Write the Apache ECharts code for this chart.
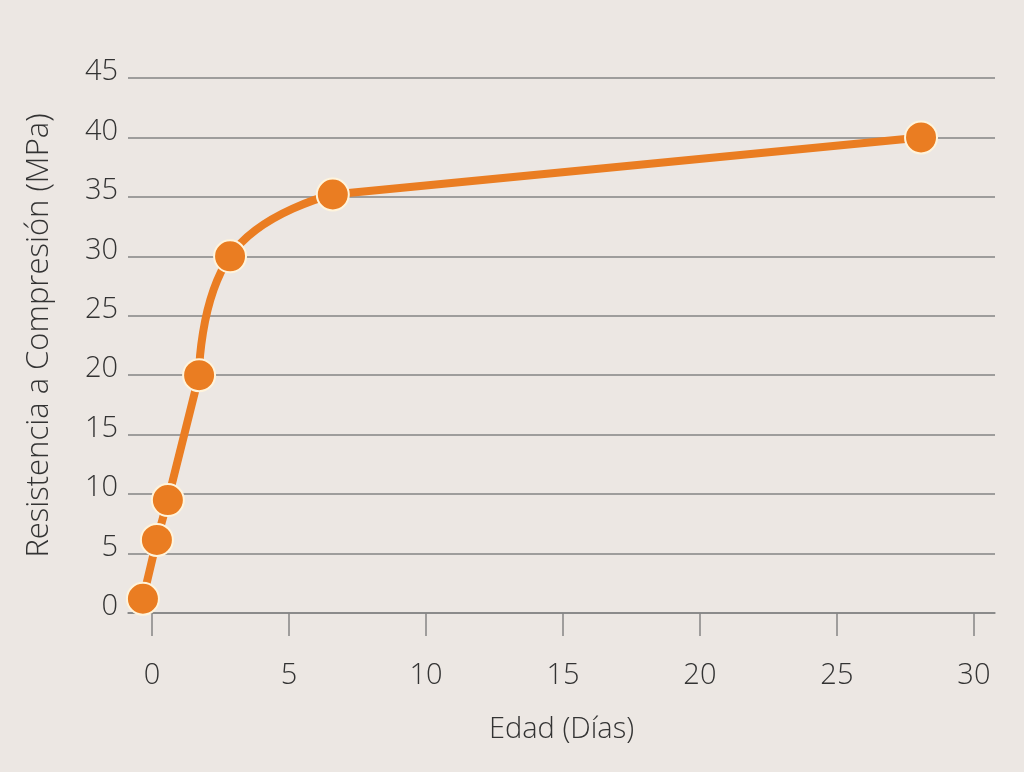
<!DOCTYPE html>
<html><head><meta charset="utf-8">
<script src="https://cdn.jsdelivr.net/npm/echarts@6/dist/echarts.min.js"></script>
<style>html,body{margin:0;padding:0;background:#ece7e3;}#c{width:1024px;height:772px;}</style>
</head><body><div id="c"></div>
<script>
const ages = [-0.33, 0.18, 0.58, 1.72, 2.85, 6.6, 28.07];
const strength = [1.2, 6.15, 9.5, 20.0, 30.0, 35.2, 40.0];
const xTicks = [0, 5, 10, 15, 20, 25, 30];
const yTicks = [0, 5, 10, 15, 20, 25, 30, 35, 40, 45];
const xName = 'Edad (Días)';
const yName = 'Resistencia a Compresión (MPa)';

const pts = ages.map((a, i) => [a, strength[i]]);
const FONT = "'Open Sans', sans-serif";
const ORANGE = '#ea7d22';
const lineSeries = (data, smooth) => ({
  type: 'line', data, smooth, symbol: 'none',
  lineStyle: {color: ORANGE, width: 8, cap: 'round', join: 'round'}
});
const chart = echarts.init(document.getElementById('c'));
chart.setOption({
  backgroundColor: '#ece7e3',
  animation: false,
  grid: {left: 128, right: 29, top: 78, bottom: 159},
  xAxis: {
    type: 'value', min: -0.875, max: 30.77,
    name: xName, nameLocation: 'middle', nameGap: 102,
    nameTextStyle: {fontFamily: FONT, fontWeight: 300, fontSize: 29, color: '#333'},
    axisLine: {show: true, lineStyle: {color: '#858585', width: 1.5}},
    axisTick: {show: true, length: 23, customValues: xTicks, lineStyle: {color: '#858585', width: 1.5}},
    axisLabel: {customValues: xTicks, margin: 48, fontFamily: FONT, fontWeight: 300, fontSize: 29, color: '#333'},
    splitLine: {show: false}
  },
  yAxis: {
    type: 'value', min: 0, max: 45, interval: 5,
    name: yName, nameLocation: 'middle', nameGap: 73, nameRotate: 90,
    nameTextStyle: {fontFamily: FONT, fontWeight: 300, fontSize: 31, color: '#333', padding: [0, 0, 0, 20]},
    axisLine: {show: false}, axisTick: {show: false},
    axisLabel: {margin: 10, fontFamily: FONT, fontWeight: 300, fontSize: 29, color: '#333',
      verticalAlign: 'bottom', lineHeight: 12,
      formatter: v => yTicks.includes(v) ? String(v) : ''},
    splitLine: {show: true, lineStyle: {color: '#858585', width: 1.5}}
  },
  series: [
    lineSeries(pts.slice(0, 4), false),
    lineSeries(pts.slice(3, 6), 0.5),
    lineSeries(pts.slice(5), false),
    {
      type: 'scatter',
      data: pts,
      symbol: 'circle', symbolSize: 32,
      itemStyle: {color: ORANGE, borderColor: '#fff4dc', borderWidth: 2, opacity: 1},
      z: 5
    }
  ]
});
</script></body></html>
